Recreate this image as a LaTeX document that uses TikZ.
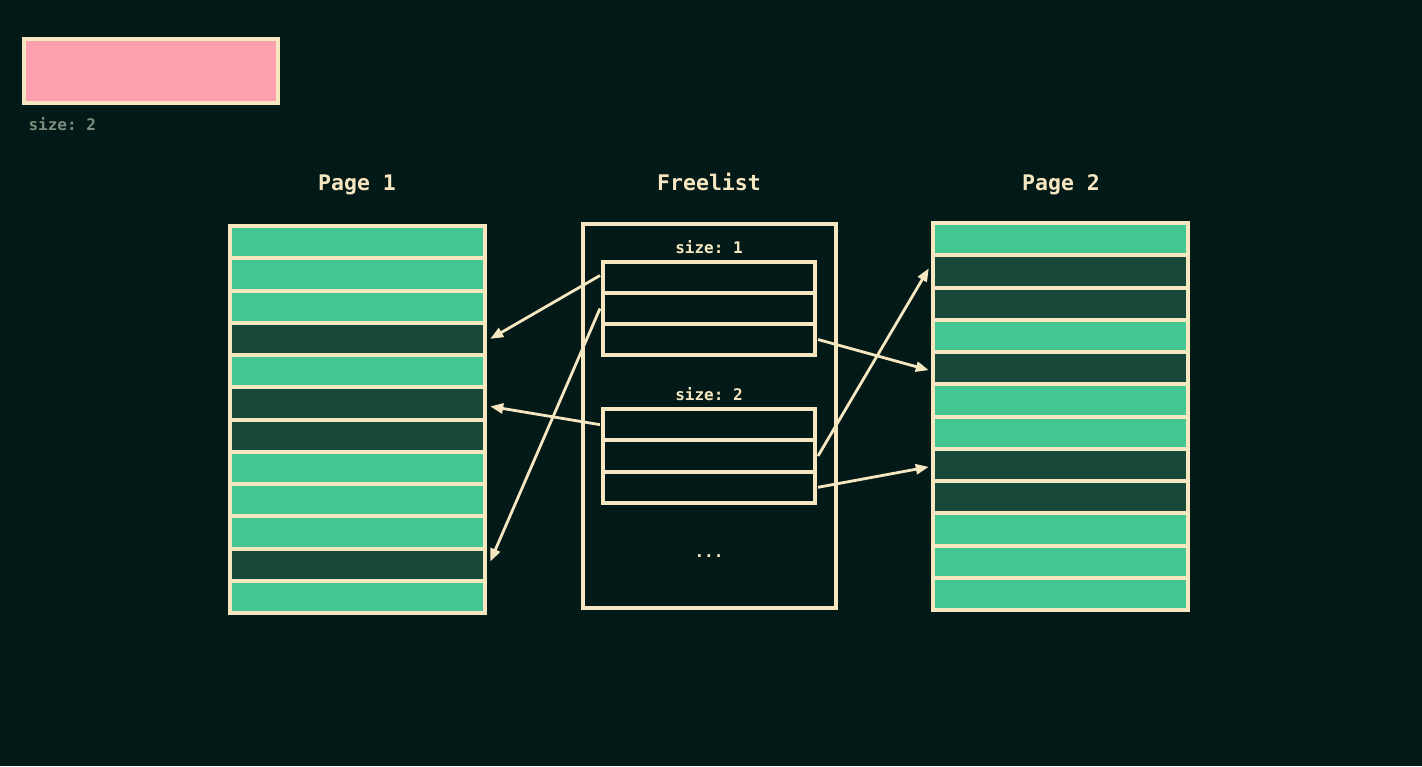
\documentclass[tikz,border=0pt]{standalone}
\usepackage{fontspec}
\setmonofont{DejaVu Sans Mono}
\usetikzlibrary{arrows.meta,calc}
\definecolor{bg}{HTML}{021A17}
\definecolor{cream}{HTML}{F6E7C1}
\definecolor{cellgreen}{HTML}{44C692}
\definecolor{celldark}{HTML}{17483A}
\definecolor{pinkfill}{HTML}{FFA0AE}
\definecolor{greylabel}{HTML}{7C8C7F}
\begin{document}
\begin{tikzpicture}[x=1pt,y=-1pt,
  frame/.style={fill=cream, draw=none, inner sep=0pt, minimum width=259pt, minimum height=391pt},
  cell/.style={draw=none, inner sep=0pt, minimum width=251pt, minimum height=28.25pt},
  slot/.style={draw=cream, line width=4pt, inner sep=0pt, minimum width=212pt, minimum height=31.2pt},
  header/.style={anchor=base, text=cream, font=\fontsize{21.5}{24}\selectfont\ttfamily\bfseries},
  sizelabel/.style={anchor=base, text=cream, font=\fontsize{16}{18}\selectfont\ttfamily\bfseries},
  link/.style={draw=cream, line width=2.8pt, -{Triangle[length=13pt,width=10pt]}}
]
\useasboundingbox (0,0) rectangle (1422,766);
\fill[bg] (0,0) rectangle (1422,766);

% top-left block
\node[draw=cream, line width=4pt, fill=pinkfill, inner sep=0pt, minimum width=254pt, minimum height=64pt] (blk) at (151,71) {};
\node[anchor=base west, text=greylabel, font=\fontsize{16}{18}\selectfont\ttfamily\bfseries] (blklabel) at (25,130) {size: 2};

% headers
\node[header] (h1) at (357,190.5) {Page 1};
\node[header] (hf) at (709,190.5) {Freelist};
\node[header] (h2) at (1061,190.5) {Page 2};

% Page 1
\node[frame] (p1) at (357.5,419.5) {};
\foreach \c [count=\i] in {cellgreen,cellgreen,cellgreen,celldark,cellgreen,celldark,celldark,cellgreen,cellgreen,cellgreen,celldark,cellgreen}{
  \node[cell, fill=\c] (p1r\i) at (357.5,{228+(\i-1)*32.25+14.125}) {};
}

% Page 2
\node[frame] (p2) at (1060.5,416.5) {};
\foreach \c [count=\i] in {cellgreen,celldark,celldark,cellgreen,celldark,cellgreen,cellgreen,celldark,celldark,cellgreen,cellgreen,cellgreen}{
  \node[cell, fill=\c] (p2r\i) at (1060.5,{225+(\i-1)*32.25+14.125}) {};
}

% Freelist
\node[draw=cream, line width=4pt, inner sep=0pt, minimum width=253pt, minimum height=384pt] (fl) at (709.5,416) {};
\node[sizelabel] (s1) at (709,253) {size: 1};
\node[slot] (a1) at (709,277.5) {};
\node[slot] (a2) at (709,308.5) {};
\node[slot] (a3) at (709,339.5) {};
\node[sizelabel] (s2) at (709,400) {size: 2};
\node[slot] (b1) at (709,424.7) {};
\node[slot] (b2) at (709,456) {};
\node[slot] (b3) at (709,487.3) {};
\node[sizelabel] (dots) at (709,557) {...};

% connectors
\draw[link] ([xshift=-1pt,yshift=2pt]a1.west) -- ([xshift=7pt]p1r4.east);
\draw[link] ([xshift=-1pt]a2.west) -- ([xshift=7pt,yshift=3pt]p1r11.east);
\draw[link] ([xshift=-1pt]b1.west) -- ([xshift=7pt,yshift=-3pt]p1r6.east);
\draw[link] ([xshift=1pt]a3.east) -- ([xshift=-6pt,yshift=-2pt]p2r5.west);
\draw[link] ([xshift=1pt]b2.east) -- ([xshift=-6pt,yshift=3pt]p2r2.west);
\draw[link] ([xshift=1pt]b3.east) -- ([xshift=-6pt,yshift=-2pt]p2r8.west);
\end{tikzpicture}
\end{document}
